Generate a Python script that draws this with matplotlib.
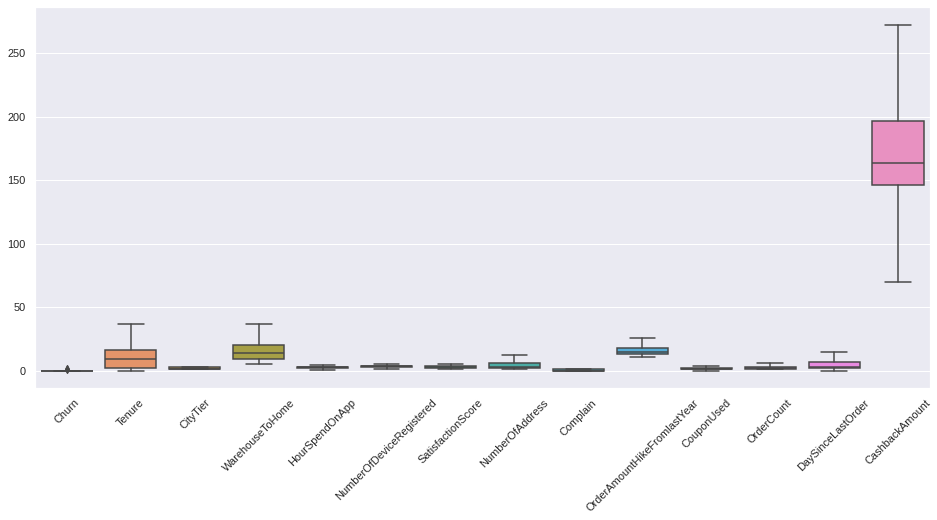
import matplotlib
matplotlib.use('Agg')
import matplotlib.pyplot as plt
import seaborn as sns
import colorsys

# Box summary statistics
columns = ['Churn', 'Tenure', 'CityTier', 'WarehouseToHome', 'HourSpendOnApp',
           'NumberOfDeviceRegistered', 'SatisfactionScore', 'NumberOfAddress',
           'Complain', 'OrderAmountHikeFromlastYear', 'CouponUsed', 'OrderCount',
           'DaySinceLastOrder', 'CashbackAmount']
q1 = [0, 2, 1, 9, 2, 3, 2, 2, 0, 13, 1, 1, 2, 146]
med = [0, 9, 1, 14, 3, 4, 3, 3, 0, 15, 1, 2, 3, 163.5]
q3 = [0, 16, 3, 20, 3, 4, 4, 6, 1, 18, 2, 3, 7, 196.5]
whislo = [0, 0, 1, 5, 0.5, 1.5, 1, 1, 0, 11, 0, 1, 0, 69.5]
whishi = [0, 37, 3, 36.5, 4.5, 5.5, 5, 12, 1, 25.5, 3.5, 6, 14.5, 272.5]
fliers = [[1, 1], [], [], [], [], [], [], [], [], [], [], [], [], []]

sns.set_theme()
plt.rcParams['font.family'] = ['Liberation Sans', 'DejaVu Sans']
fig, ax = plt.subplots(figsize=(937 / 72, 520 / 72), dpi=72)
fig.subplots_adjust(left=35 / 937, right=930 / 937, top=1 - 7 / 520, bottom=1 - 388 / 520)

colors = [sns.desaturate(c, 0.75) for c in sns.husl_palette(len(columns), l=.7)]
lum = min(colorsys.rgb_to_hls(*c)[1] for c in colors) * .6
gray = (lum, lum, lum)

stats = []
for i, name in enumerate(columns):
    stats.append(dict(label=name, q1=q1[i], med=med[i], q3=q3[i],
                      whislo=whislo[i], whishi=whishi[i], fliers=fliers[i]))

positions = list(range(len(columns)))
bp = ax.bxp(stats, positions=positions, widths=0.8, patch_artist=True,
            boxprops=dict(edgecolor=gray, linewidth=1.5),
            medianprops=dict(color=gray, linewidth=1.5),
            whiskerprops=dict(color=gray, linewidth=1.5),
            capprops=dict(color=gray, linewidth=1.5),
            flierprops=dict(marker='d', markersize=5, markerfacecolor=gray,
                            markeredgecolor=gray))
for patch, c in zip(bp['boxes'], colors):
    patch.set_facecolor(c)

ax.set_xlim(-0.5, len(columns) - 0.5)
ax.set_ylim(-13.7, 286.5)
ax.grid(axis='x', visible=False)
ax.set_xticks(positions)
ax.set_xticklabels(columns, rotation=45, fontsize=11)
ax.tick_params(axis='y', labelsize=11)

plt.savefig('out.png', dpi=72)
